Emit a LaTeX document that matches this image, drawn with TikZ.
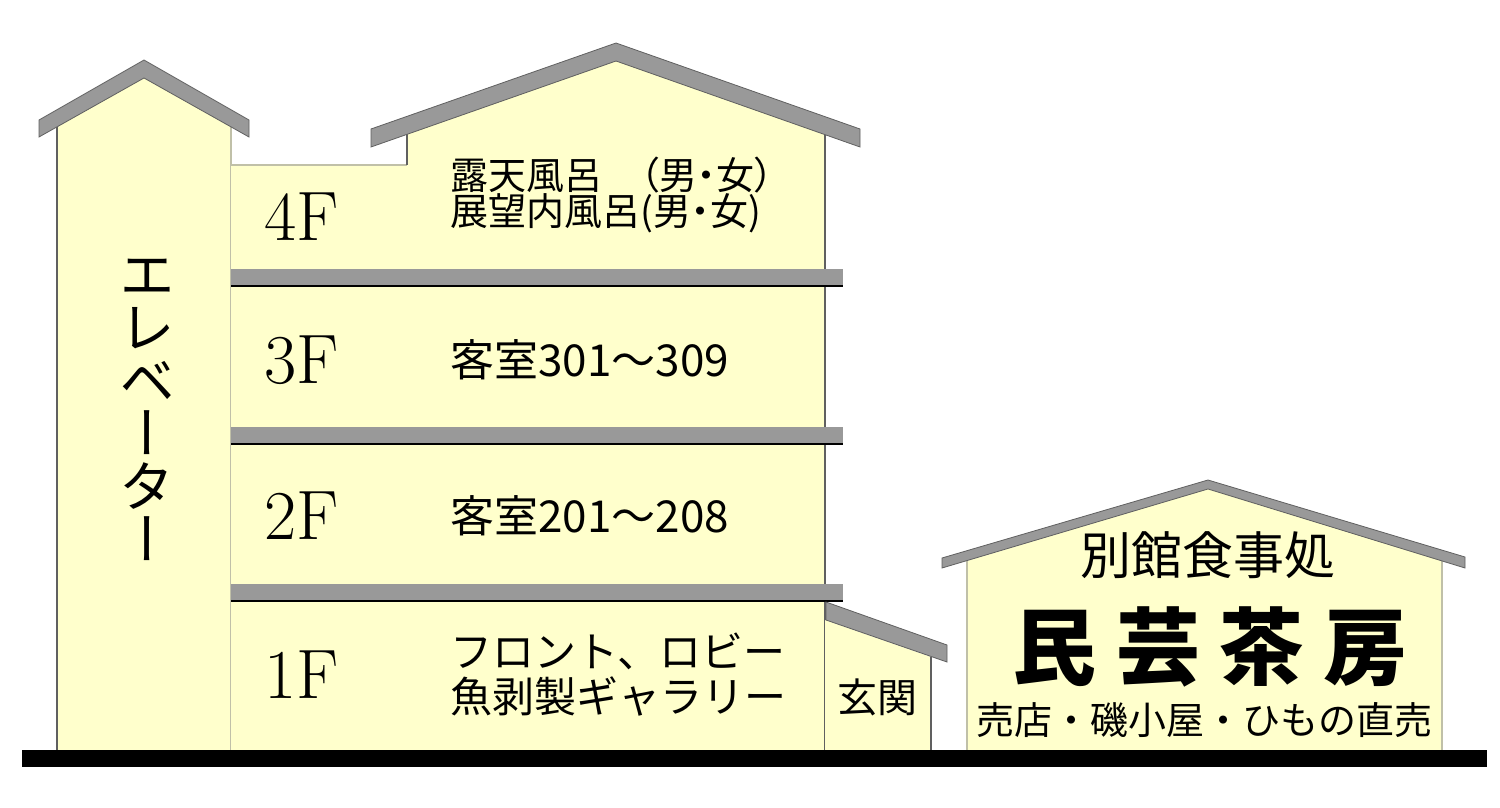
\documentclass[tikz,border=0pt]{standalone}
\usepackage{fontspec}
\newfontfamily\jp{Noto Sans CJK JP}
\newfontfamily\jpp[RawFeature=+palt]{Noto Sans CJK JP}
\newfontfamily\jpv[RawFeature=+vert]{Noto Sans CJK JP}
\usepackage{xcolor}
\definecolor{wallfill}{HTML}{FFFFCC}
\definecolor{roofgray}{HTML}{999999}
\definecolor{edgegray}{HTML}{606060}
\definecolor{lightedge}{HTML}{C0C0A8}
\usetikzlibrary{positioning}
\tikzset{
  wall/.style  ={fill=wallfill, draw=none},
  roof/.style  ={fill=roofgray, draw=edgegray, line width=0.4pt},
  slab/.style  ={fill=roofgray, draw=none},
  slabline/.style={draw=black, line width=1.1pt},
  darkedge/.style={draw=edgegray, line width=0.6pt},
  paleedge/.style={draw=lightedge, line width=0.6pt},
}
\tikzset{
  flr/.style   ={font=\fontsize{35}{35}\selectfont, inner sep=0pt},
  room/.style  ={font=\jp\fontsize{22}{22}\selectfont, anchor=west, align=left, inner sep=0pt},
  shoptxt/.style={font=\jp\fontsize{19}{20}\selectfont, inner sep=0pt},
}
\begin{document}
\begin{tikzpicture}[x=0.5pt, y=-0.5pt]
  \useasboundingbox (0,0) rectangle (1500,808);
  % elevator tower
  \fill[wall] (57,750) -- (57,127) -- (144,78) -- (231,127) -- (231,750) -- cycle;
  \draw[darkedge] (57,127) -- (57,750);
  \draw[paleedge] (231,127) -- (231,750);
  \filldraw[roof] (39,120) -- (144,60) -- (249,120) -- (249,137) -- (144,78) -- (39,137) -- cycle;
  % main building
  \fill[wall] (231,750) -- (231,165) -- (407,165) -- (407,134) -- (616,61) -- (825,134) -- (825,750) -- cycle;
  \draw[paleedge] (231,165) -- (407,165);
  \draw[darkedge] (407,165) -- (407,134);
  \draw[darkedge] (825,134) -- (825,750);
  \filldraw[roof] (371,129) -- (616,43) -- (860,129) -- (860,147) -- (616,61) -- (371,147) -- cycle;
  % floor slabs
  \foreach \y in {269,427,584} {
    \fill[slab] (231,\y) rectangle (843,\y+16);
    \draw[slabline] (231,\y+17) -- (843,\y+17);
  }
  % entrance
  \fill[wall] (825,750) -- (825,620) -- (931,657) -- (931,750) -- cycle;
  \draw[darkedge] (931,657) -- (931,750);
  \filldraw[roof] (826,602) -- (947,645) -- (947,662) -- (826,620) -- cycle;
  % annex
  \fill[wall] (967,750) -- (967,561) -- (1208,489) -- (1442,561) -- (1442,750) -- cycle;
  \draw[paleedge] (967,561) -- (967,750);
  \draw[paleedge] (1442,561) -- (1442,750);
  \filldraw[roof] (942,558) -- (1208,480) -- (1465,557) -- (1465,568) -- (1208,489) -- (942,568) -- cycle;
  % ground
  \fill[black] (22,750) rectangle (1487,767);

  % labels
  \node[font=\jpv\fontsize{28}{26.5}\selectfont, align=center, inner sep=0pt] (elev) at (147,410) {エ\\レ\\ベ\\ー\\タ\\ー};
  \node[flr] (f4) at (302,217) {4F};
  \node[flr] (f3) at (302,360) {3F};
  \node[flr] (f2) at (302,516) {2F};
  \node[flr] (f1) at (302,675) {1F};
  \node[room, font=\jpp\fontsize{19}{18}\selectfont] (r4) at (450,195) {露天風呂　（男・女）\\展望内風呂(男・女)};
  \node[room] (r3) at (450,360) {客室301～309};
  \node[room] (r2) at (450,516) {客室201～208};
  \node[room, font=\jp\fontsize{21}{22.5}\selectfont] (r1) at (450,675) {フロント、ロビー\\魚剥製ギャラリー};
  \node[font=\jp\fontsize{20}{20}\selectfont, inner sep=0pt] (gk) at (877,697) {玄関};
  \node[shoptxt, font=\jp\fontsize{25.5}{26}\selectfont] (sub) at (1208,555) {別館食事処};
  \node[shoptxt, font=\jp\bfseries\fontsize{42}{42}\selectfont] (name) at (1210,647) {民\hspace{10pt}芸\hspace{10pt}茶\hspace{10pt}房};
  \node[shoptxt] (shop) at (1204,720) {売店・磯小屋・ひもの直売};
\end{tikzpicture}
\end{document}
